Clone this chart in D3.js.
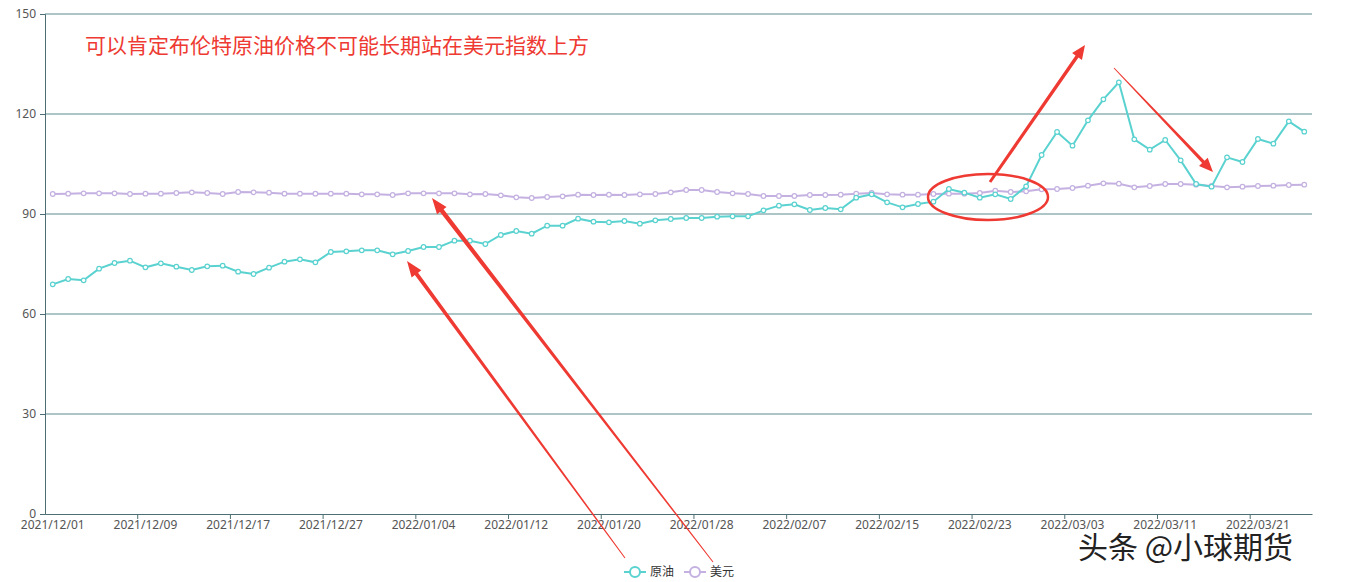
<!DOCTYPE html>
<html><head><meta charset="utf-8">
<script src="https://cdn.jsdelivr.net/npm/d3@7"></script>
<style>body{margin:0;background:#fff;font-family:"Noto Sans CJK SC","Noto Sans",sans-serif}</style>
</head><body><svg id="c" width="1345" height="582"></svg>
<script>
const dates = ["2021/12/01","2021/12/02","2021/12/03","2021/12/06","2021/12/07","2021/12/08",
"2021/12/09","2021/12/10","2021/12/13","2021/12/14","2021/12/15","2021/12/16",
"2021/12/17","2021/12/20","2021/12/21","2021/12/22","2021/12/23","2021/12/24",
"2021/12/27","2021/12/28","2021/12/29","2021/12/30","2021/12/31","2022/01/03",
"2022/01/04","2022/01/05","2022/01/06","2022/01/07","2022/01/10","2022/01/11",
"2022/01/12","2022/01/13","2022/01/14","2022/01/17","2022/01/18","2022/01/19",
"2022/01/20","2022/01/21","2022/01/24","2022/01/25","2022/01/26","2022/01/27",
"2022/01/28","2022/01/31","2022/02/01","2022/02/02","2022/02/03","2022/02/04",
"2022/02/07","2022/02/08","2022/02/09","2022/02/10","2022/02/11","2022/02/14",
"2022/02/15","2022/02/16","2022/02/17","2022/02/18","2022/02/21","2022/02/22",
"2022/02/23","2022/02/24","2022/02/25","2022/02/28","2022/03/01","2022/03/02",
"2022/03/03","2022/03/04","2022/03/07","2022/03/08","2022/03/09","2022/03/10",
"2022/03/11","2022/03/14","2022/03/15","2022/03/16","2022/03/17","2022/03/18",
"2022/03/21","2022/03/22","2022/03/23","2022/03/24"];
const oil = [68.9,70.5,70.1,73.6,75.3,76.0,74.0,75.2,74.2,73.2,74.3,74.5,72.7,72.0,73.9,75.7,76.4,75.5,78.6,78.8,79.1,79.1,77.9,78.9,80.1,80.1,82.0,82.0,
81.0,83.7,84.9,84.1,86.5,86.5,88.6,87.7,87.5,87.9,87.1,88.1,88.5,88.8,88.8,89.2,89.3,89.3,91.1,92.5,92.9,91.2,91.8,91.4,94.9,95.9,93.5,92.0,93.0,93.7,
97.5,96.4,94.9,95.9,94.5,98.3,107.7,114.6,110.5,118.1,124.4,129.5,112.4,109.3,112.2,106.1,99.0,98.2,107.0,105.6,112.5,111.1,117.8,114.7];
const usd = [96.0,96.1,96.2,96.2,96.2,96.0,96.1,96.1,96.3,96.5,96.3,96.0,96.6,96.5,96.4,96.1,96.1,96.1,96.1,96.1,95.9,95.9,95.7,96.2,96.2,96.2,96.2,95.9,
96.0,95.6,95.0,94.8,95.1,95.3,95.8,95.7,95.8,95.7,95.9,96.0,96.5,97.2,97.2,96.6,96.2,96.0,95.4,95.4,95.4,95.7,95.7,95.8,96.1,96.3,95.9,95.8,95.8,96.0,
96.1,96.1,96.3,97.0,96.6,96.8,97.4,97.5,97.8,98.5,99.2,99.1,98.0,98.4,99.0,99.0,98.8,98.4,98.0,98.2,98.4,98.5,98.7,98.8];
const yTicks = [0,30,60,90,120,150];
const series = [{name:"原油", values:oil, color:"#5ad2d0"},{name:"美元", values:usd, color:"#c4b1e1"}];

const svg = d3.select("#c");
const m = {top:14, right:33, bottom:68, left:45};
const W = 1345, H = 582;
const x = d3.scaleBand().domain(dates).range([m.left, W-m.right]);
const y = d3.scaleLinear().domain([0,150]).range([H-m.bottom, m.top]);
const cx = d => x(d) + x.bandwidth()/2;

// grid
svg.append("g").selectAll("line").data(yTicks.filter(t=>t>0)).join("line")
  .attr("x1", m.left).attr("x2", W-m.right).attr("y1", d=>y(d)).attr("y2", d=>y(d))
  .attr("stroke", "#5b8b8e").attr("stroke-width", 1);
const ya = svg.append("g").attr("transform",`translate(${m.left},0)`)
  .call(d3.axisLeft(y).tickValues(yTicks).tickSize(5).tickPadding(4));
const xa = svg.append("g").attr("transform",`translate(0,${H-m.bottom})`)
  .call(d3.axisBottom(x).tickValues(dates.filter((d,i)=>i%6===0)).tickSize(0).tickPadding(6));
// tick marks at band boundaries
svg.append("g").selectAll("line").data(dates.filter((d,i)=>i%6===0).slice(1)).join("line")
  .attr("x1", d=>x(d)).attr("x2", d=>x(d)).attr("y1", H-m.bottom).attr("y2", H-m.bottom+5)
  .attr("stroke", "#4d6f73");
[ya, xa].forEach(g => {
  g.select(".domain").attr("stroke", "#4d6f73");
  g.selectAll(".tick line").attr("stroke", "#4d6f73");
  g.selectAll("text").attr("fill", "#555").style("font-size", "12px").style("font-family", "Noto Sans, sans-serif");
});

const line = d3.line().x((v,i)=>cx(dates[i])).y(v=>y(v));
series.slice().reverse().forEach(s => {
  svg.append("path").attr("d", line(s.values)).attr("fill","none").attr("stroke", s.color).attr("stroke-width", 2);
  svg.append("g").selectAll("circle").data(s.values).join("circle")
    .attr("cx", (v,i)=>cx(dates[i])).attr("cy", v=>y(v)).attr("r", 2.3)
    .attr("fill", "#fff").attr("stroke", s.color).attr("stroke-width", 1.2);
});

// legend
const lg = svg.append("g").attr("transform", "translate(624,572)");
series.forEach((s,i) => {
  const g = lg.append("g").attr("transform", `translate(${i*60},0)`);
  g.append("line").attr("x1",0).attr("x2",22).attr("stroke", s.color).attr("stroke-width",2);
  g.append("circle").attr("cx",11).attr("r",5).attr("fill","#fff").attr("stroke", s.color).attr("stroke-width",2);
  g.append("text").attr("x",26).attr("y",4).text(s.name).attr("fill","#333").style("font-size","12px");
});

// title annotation
svg.append("text").attr("x", 85).attr("y", 53).text("可以肯定布伦特原油价格不可能长期站在美元指数上方")
  .attr("fill", "#ee3a32").style("font-size", "21px");

// arrows: tapered shafts with heads
const red = "#ee3a32";
function arrow(x0,y0,x1,y1,w0,w1,hl,hw){
  const dx=x1-x0, dy=y1-y0, L=Math.hypot(dx,dy), ux=dx/L, uy=dy/L, px=-uy, py=ux;
  const bx=x1-ux*hl, by=y1-uy*hl;
  const pts=[[x0+px*w0/2,y0+py*w0/2],[bx+px*w1/2,by+py*w1/2],[bx+px*hw/2,by+py*hw/2],[x1,y1],
    [bx-px*hw/2,by-py*hw/2],[bx-px*w1/2,by-py*w1/2],[x0-px*w0/2,y0-py*w0/2]];
  svg.append("polygon").attr("points", pts.map(p=>p.join(",")).join(" ")).attr("fill", red);
}
arrow(625,558,407,261,1,4,16,12);
arrow(713,562,432,198,1,4.5,16,12);
arrow(990,182,1085,45,3,3.5,14,12);
arrow(1114,68,1213,172,1,3.5,14,12);
svg.append("ellipse").attr("cx",988).attr("cy",197).attr("rx",60).attr("ry",23)
  .attr("fill","none").attr("stroke",red).attr("stroke-width",2.5);

// watermark
svg.append("text").attr("x", 1078).attr("y", 558).text("头条 @小球期货")
  .attr("fill", "#222").style("font-size", "30px");
</script></body></html>
